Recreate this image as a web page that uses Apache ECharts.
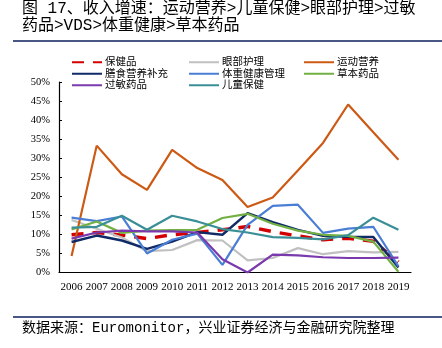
<!DOCTYPE html>
<html>
<head>
<meta charset="utf-8">
<script src="https://cdn.jsdelivr.net/npm/echarts@6/dist/echarts.min.js"></script>
<style>
  html, body { margin: 0; padding: 0; background: #fff; }
  #chart { width: 442px; height: 348px; }
</style>
</head>
<body>
<div id="chart"></div>
<script>
// Revenue growth by health-product category, 2006-2019 (%)
const years = ['2006','2007','2008','2009','2010','2011','2012','2013','2014','2015','2016','2017','2018','2019'];

const baojianpin   = [9.9, 10.5, 9.8, 8.9, 9.9, 10.5, 11.2, 12.1, 10.7, 9.6, 8.6, 9.0, 8.2, 2.8];      // 保健品
const yanbuhuli    = [13.8, 11.5, 9.2, 5.6, 5.9, 8.5, 8.4, 3.2, 3.8, 6.4, 4.8, 5.6, 5.3, 5.4];        // 眼部护理
const yundongyy    = [4.3, 33.3, 25.8, 21.7, 32.2, 27.4, 24.3, 17.2, 19.7, 26.8, 34.0, 44.1, 36.8, 29.6]; // 运动营养
const shanshibc    = [8.0, 9.7, 8.4, 6.2, 8.1, 10.6, 9.9, 15.6, 13.2, 11.2, 9.6, 9.4, 9.3, 1.3];      // 膳食营养补充
const tizhonggl    = [14.4, 13.5, 14.7, 5.0, 8.6, 10.2, 2.0, 12.5, 17.5, 17.8, 10.4, 11.5, 12.0, 1.6]; // 体重健康管理
const caobenyp     = [11.3, 13.4, 10.4, 11.0, 11.1, 11.2, 14.3, 15.4, 12.8, 11.0, 9.9, 9.6, 8.1, 0.2]; // 草本药品
const guominyp     = [8.9, 10.5, 11.0, 10.8, 10.8, 10.5, 3.5, 0.0, 4.7, 4.5, 4.0, 3.8, 3.8, 3.9];     // 过敏药品
const ertongbj     = [11.8, 12.0, 14.9, 11.2, 14.9, 13.4, 11.4, 10.5, 9.3, 9.1, 8.7, 9.8, 14.4, 11.2]; // 儿童保健

const yTicks = { min: 0, max: 50, interval: 5 };

const cjk = "'Liberation Mono', 'Noto Sans CJK SC', sans-serif";
const serif = "'Liberation Serif', 'Times New Roman', serif";

function line(name, data, color, width, type) {
  return {
    name, type: 'line', data,
    symbol: 'none', showSymbol: false,
    lineStyle: { color, width, type: type || 'solid', cap: 'butt' },
    itemStyle: { color },
    emphasis: { disabled: true },
    animation: false
  };
}

const series = [
  line('保健品', baojianpin, '#d40000', 3.5, [12, 9]),
  line('眼部护理', yanbuhuli, '#c0c0c0', 2.2),
  line('运动营养', yundongyy, '#cc5a14', 2.2),
  line('膳食营养补充', shanshibc, '#0f2a66', 2.4),
  line('体重健康管理', tizhonggl, '#4a7ed4', 2.2),
  line('草本药品', caobenyp, '#72b043', 2.2),
  line('过敏药品', guominyp, '#7a3aae', 2.2),
  line('儿童保健', ertongbj, '#3a8f97', 2.2)
];

function legendCol(left, names) {
  return {
    orient: 'vertical', left, top: 57,
    itemWidth: 30, itemHeight: 10, itemGap: 1,
    padding: 0,
    selectedMode: false,
    data: names,
    // keep only the line sample, hide the marker in the middle
    itemStyle: { opacity: 0 },
    textStyle: { fontFamily: cjk, fontSize: 10.5, color: '#000', padding: [0, 0, 0, -2] }
  };
}

const chart = echarts.init(document.getElementById('chart'), null, { renderer: 'canvas' });
chart.setOption({
  backgroundColor: '#fff',
  animation: false,
  title: {
    text: '图 17、收入增速：运动营养>儿童保健>眼部护理>过敏\n药品>VDS>体重健康>草本药品',
    left: 22, top: 0, padding: 0,
    textStyle: { fontFamily: cjk, fontSize: 16, lineHeight: 17, fontWeight: 'normal', color: '#000' }
  },
  legend: [
    legendCol(71, ['保健品', '膳食营养补充', '过敏药品']),
    legendCol(188, ['眼部护理', '体重健康管理', '儿童保健']),
    legendCol(303, ['运动营养', '草本药品'])
  ],
  grid: { left: 59, right: 31, top: 82, bottom: 75.5, containLabel: false },
  xAxis: {
    type: 'category', data: years, boundaryGap: true,
    axisLine: { lineStyle: { color: '#000', width: 1.2 } },
    axisTick: { inside: true, length: 4, lineStyle: { color: '#000' } },
    axisLabel: { fontFamily: serif, fontSize: 11, color: '#000', margin: 9, interval: 0 },
    splitLine: { show: false }
  },
  yAxis: {
    type: 'value', min: yTicks.min, max: yTicks.max, interval: yTicks.interval,
    axisLine: { show: true, lineStyle: { color: '#000', width: 1.2 } },
    axisTick: { show: true, inside: true, length: 3, lineStyle: { color: '#000' } },
    axisLabel: { fontFamily: serif, fontSize: 10.5, color: '#000', margin: 9, formatter: '{value}%' },
    splitLine: { show: false }
  },
  graphic: [
    { type: 'line', shape: { x1: 13, y1: 41, x2: 442, y2: 41 }, style: { stroke: '#4a5684', lineWidth: 2 } },
    { type: 'line', shape: { x1: 13, y1: 317, x2: 442, y2: 317 }, style: { stroke: '#4a5684', lineWidth: 2 } },
    { type: 'text', left: 22, top: 321,
      style: { text: '数据来源：Euromonitor，兴业证券经济与金融研究院整理', font: "14px " + cjk, fill: '#000' } }
  ],
  series
});
</script>
</body>
</html>
